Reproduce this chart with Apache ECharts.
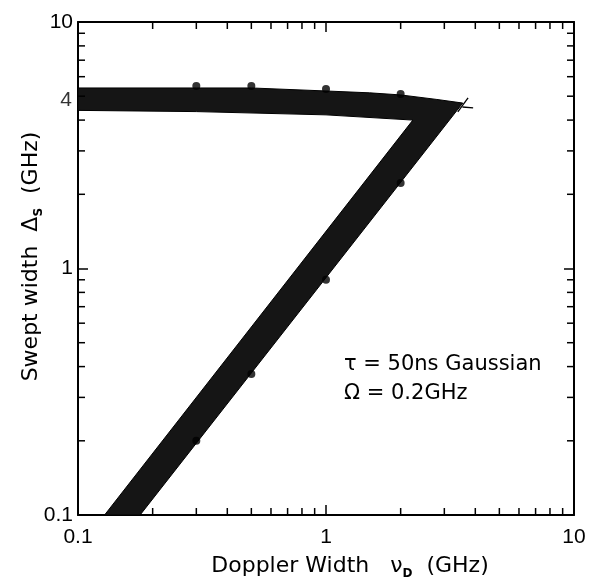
<!DOCTYPE html>
<html><head><meta charset="utf-8">
<script src="https://cdn.jsdelivr.net/npm/echarts@6/dist/echarts.min.js"></script>
<style>html,body{margin:0;padding:0;background:#fff}#c{width:591px;height:580px}</style>
</head><body><div id="c"></div>
<script>
// Shaded band (outline vertices, data coordinates)
const plateauTopX = [0.1, 0.3, 0.5, 1.0, 1.5, 2.0, 2.8, 3.56];
const plateauTopY = [5.40, 5.40, 5.40, 5.25, 5.16, 5.06, 4.85, 4.69];
const diagRightX = [0.178];
const diagRightY = [0.1];
const diagLeftX = [0.128, 2.24];
const diagLeftY = [0.1, 4.0];
const plateauBottomX = [1.0, 0.3, 0.1];
const plateauBottomY = [4.2, 4.33, 4.38];
// Data points
const dotsX = [0.3, 0.5, 1.0, 2.0, 2.0, 1.0, 0.5, 0.3];
const dotsY = [5.50, 5.50, 5.35, 5.10, 2.22, 0.90, 0.373, 0.20];
// Thin crossing lines at the corner
const line1X = [3.40, 3.74];
const line1Y = [4.32, 4.92];
const line2X = [3.55, 3.92];
const line2Y = [4.52, 4.48];
// Minor ticks
const minorTicks = [0.2,0.3,0.4,0.5,0.6,0.7,0.8,0.9,2,3,4,5,6,7,8,9];
// Extra y tick label
const extraYLabelValue = [4.83];
const extraYLabelText = ['4'];

const FONT = 'Liberation Sans';
const TFONT = 'DejaVu Sans';
const band = [];
plateauTopX.forEach((x,i)=>band.push([x, plateauTopY[i]]));
diagRightX.forEach((x,i)=>band.push([x, diagRightY[i]]));
diagLeftX.forEach((x,i)=>band.push([x, diagLeftY[i]]));
plateauBottomX.forEach((x,i)=>band.push([x, plateauBottomY[i]]));

const chart = echarts.init(document.getElementById('c'));
const axisCommon = {
  type: 'log', logBase: 10, min: 0.1, max: 10,
  axisLine: {show: true, onZero: false, lineStyle: {color: '#000', width: 2}},
  axisTick: {show: true, inside: true, length: 10, lineStyle: {color: '#000', width: 1.5}},
  splitLine: {show: false}, minorTick: {show: false}
};
const subRich = {sub: {fontSize: 12, fontWeight: 'bold', fontFamily: TFONT, color: '#000', verticalAlign: 'bottom', padding: [0,0,-3,0]}};
chart.setOption({
  animation: false,
  grid: {left: 78, right: 17, top: 22, bottom: 65, outerBoundsMode: 'none', containLabel: false},
  xAxis: [
    Object.assign({}, axisCommon, {
      position: 'bottom',
      axisLabel: {color: '#000', fontSize: 21, fontFamily: FONT, margin: 12},
      name: 'Doppler Width   ν{sub|D}  (GHz)', nameLocation: 'middle', nameGap: 40,
      nameTextStyle: {color: '#000', fontSize: 22, fontFamily: TFONT, rich: subRich, padding: [0,0,0,48]}
    }),
    Object.assign({}, axisCommon, {position: 'top', axisLabel: {show: false}})
  ],
  yAxis: [
    Object.assign({}, axisCommon, {
      position: 'left',
      axisLabel: {color: '#000', fontSize: 21, fontFamily: FONT, margin: 5},
      name: 'Swept width  Δ{sub|S}  (GHz)', nameLocation: 'middle', nameGap: 36, nameMoveOverlap: false,
      nameTextStyle: {color: '#000', fontSize: 22, fontFamily: TFONT, rich: subRich, padding: [0,0,0,24]}
    }),
    Object.assign({}, axisCommon, {position: 'right', axisLabel: {show: false}})
  ],
  graphic: [{
    type: 'text', left: 344, top: 350,
    style: {text: 'τ = 50ns Gaussian\nΩ = 0.2GHz', fontSize: 21, fontFamily: TFONT, fill: '#000', lineHeight: 29}
  }],
  series: [
    {
      type: 'custom', renderItem: function(params, api){
        const pts = band.map(p => api.coord(p));
        return {type: 'polygon', shape: {points: pts}, style: {fill: '#151515', stroke: '#000', lineWidth: 1}};
      },
      data: [[1,1]], clip: true, z: 2
    },
    {
      type: 'custom', renderItem: function(params, api){
        const v = api.value(0);
        const cs = params.coordSys;
        const px = api.coord([v, 1])[0];
        const py = api.coord([1, v])[1];
        const L = 7, st = {stroke: '#000', lineWidth: 1.5};
        return {type: 'group', children: [
          {type: 'line', shape: {x1: px, y1: cs.y + cs.height, x2: px, y2: cs.y + cs.height - L}, style: st},
          {type: 'line', shape: {x1: px, y1: cs.y, x2: px, y2: cs.y + L}, style: st},
          {type: 'line', shape: {x1: cs.x, y1: py, x2: cs.x + L, y2: py}, style: st},
          {type: 'line', shape: {x1: cs.x + cs.width, y1: py, x2: cs.x + cs.width - L, y2: py}, style: st}
        ]};
      },
      data: minorTicks.map(v => [v, 1]), clip: false, z: 5
    },
    {
      type: 'line', data: line1X.map((x,i)=>[x, line1Y[i]]), symbol: 'none',
      lineStyle: {color: '#000', width: 1.3}, z: 4
    },
    {
      type: 'line', data: line2X.map((x,i)=>[x, line2Y[i]]), symbol: 'none',
      lineStyle: {color: '#000', width: 1.3}, z: 4
    },
    {
      type: 'scatter', data: dotsX.map((x,i)=>[x, dotsY[i]]), symbolSize: 8,
      itemStyle: {color: '#000'}, z: 6
    },
    {
      type: 'scatter', data: extraYLabelValue.map(v => [0.1, v]), symbolSize: 0, clip: false,
      label: {show: true, position: 'left', distance: 6, formatter: p => extraYLabelText[p.dataIndex],
        color: '#000', fontSize: 21, fontFamily: FONT},
      z: 6
    }
  ]
});
</script></body></html>
